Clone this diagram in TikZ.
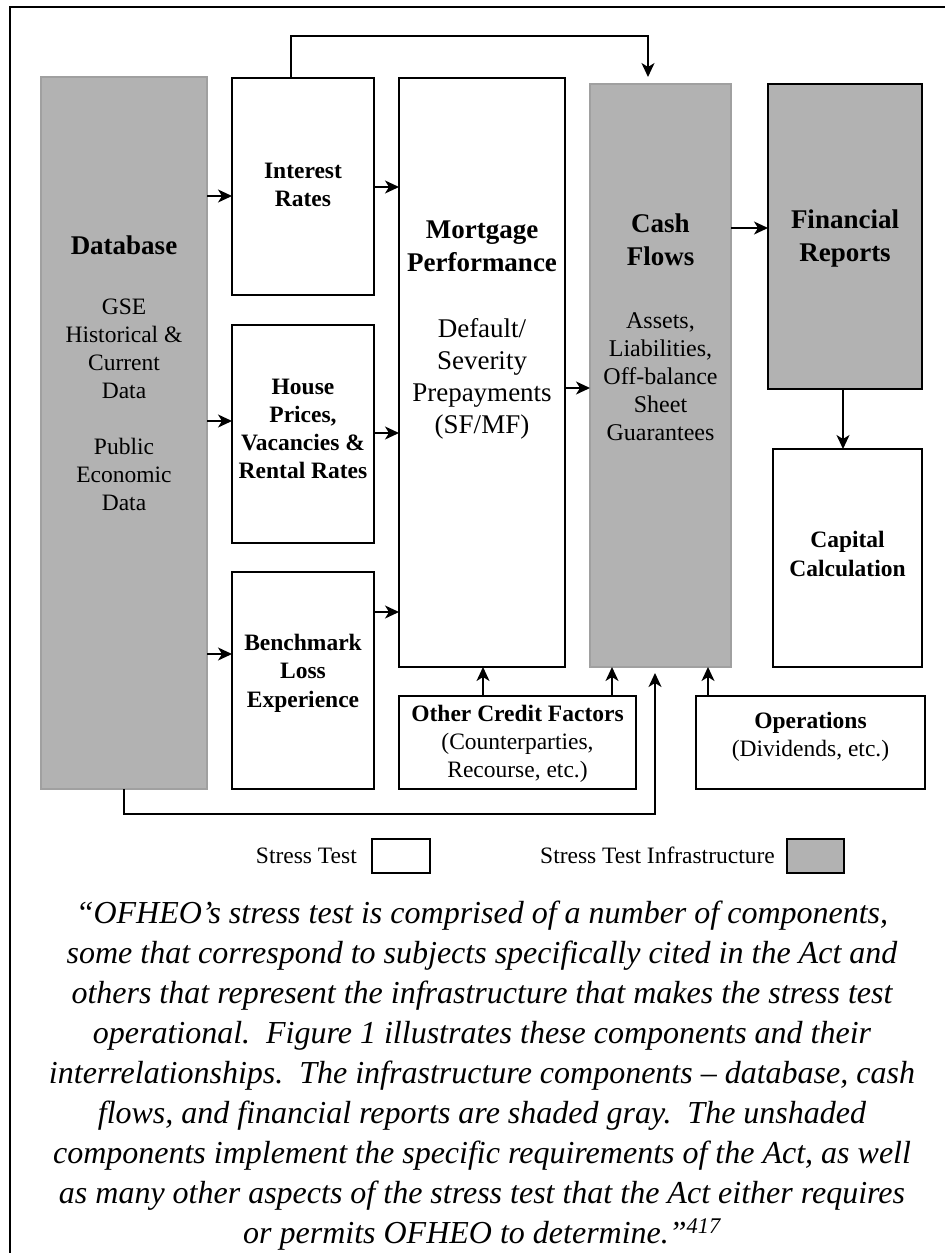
\documentclass[tikz,border=0pt]{standalone}
\usepackage{fontspec}
\setmainfont{Liberation Serif}
\usetikzlibrary{arrows.meta}
\definecolor{shade}{HTML}{B2B2B2}
\definecolor{shadeline}{HTML}{A0A0A0}
\begin{document}
\begin{tikzpicture}[x=1pt,y=-1pt,
  box/.style={draw=black, line width=1.6pt, fill=white, inner sep=0pt, outer sep=0pt},
  sbox/.style={box, fill=shade},
  arr/.style={line width=1.6pt, -{Stealth[length=14pt,width=13pt,inset=4pt]}},
  txt/.style={inner sep=0pt, align=center, anchor=base},
  bsmall/.style={txt, font=\fontsize{23.5}{28}\selectfont\bfseries},
  bbig/.style={txt, font=\fontsize{27}{33}\selectfont\bfseries},
  rsmall/.style={txt, font=\fontsize{23.5}{28}\selectfont},
  rbig/.style={txt, font=\fontsize{27}{32}\selectfont},
  captext/.style={txt, font=\fontsize{32}{40}\selectfont\itshape}
]
\useasboundingbox (0,0) rectangle (945,1253);
\fill[white] (0,0) rectangle (945,1253);
% frame
\draw[line width=2pt] (945,7) -- (10,7) -- (10,1253);

% boxes
\node[sbox, draw=shadeline, minimum width=166, minimum height=712] (db) at (124,433) {};
\node[box, minimum width=142, minimum height=217] (ir) at (303,186.5) {};
\node[box, minimum width=142, minimum height=218] (hp) at (303,434) {};
\node[box, minimum width=142, minimum height=217] (bm) at (303,680.5) {};
\node[box, minimum width=166, minimum height=589] (mp) at (482,372.5) {};
\node[box, minimum width=237, minimum height=93] (oc) at (517.5,742.5) {};
\node[sbox, draw=shadeline, minimum width=141, minimum height=583] (cf) at (660.5,375.5) {};
\node[sbox, minimum width=154, minimum height=305] (fr) at (845,236.5) {};
\node[box, minimum width=149, minimum height=218] (cc) at (847.5,558) {};
\node[box, minimum width=229, minimum height=93] (op) at (810.5,742.5) {};

% texts (anchor base = baseline of the last line)
\node[bbig] (dbt) at (124,254) {Database};
\node[rsmall] (dbs) at (124,510) {GSE\\Historical \&\\Current\\Data\\[28pt]Public\\Economic\\Data};
\node[bsmall] (irt) at (303,206) {Interest\\Rates};
\node[bsmall] (hpt) at (303,478) {House\\Prices,\\Vacancies \&\\Rental Rates};
\node[txt, font=\fontsize{23.5}{28.5}\selectfont\bfseries] (bmt) at (303,707) {Benchmark\\Loss\\Experience};
\node[bbig] (mpt) at (482,271) {Mortgage\\Performance};
\node[rbig] (mps) at (482,433) {Default/\\Severity\\Prepayments\\(SF/MF)};
\node[bbig] (cft) at (660.5,265) {Cash\\Flows};
\node[txt, font=\fontsize{24}{28}\selectfont] (cfs) at (660.5,440) {Assets,\\Liabilities,\\Off-balance\\Sheet\\Guarantees};
\node[bbig] (frt) at (845,261) {Financial\\Reports};
\node[txt, font=\fontsize{23.5}{29}\selectfont\bfseries] (cct) at (847.5,576) {Capital\\Calculation};
\node[rsmall] (oct) at (517.5,777) {\textbf{Other Credit Factors}\\(Counterparties,\\Recourse, etc.)};
\node[rsmall] (opt) at (810.5,756) {\textbf{Operations}\\(Dividends, etc.)};

% connectors
\coordinate (t1) at (291,36);
\coordinate (t2) at (648,36);
\coordinate (t3) at (648,77);
\draw[arr] (ir.north -| t1) -- (t1) -- (t2) -- (t3);

\draw[arr] (db.east |- 0,196) -- (ir.west |- 0,196);
\draw[arr] (db.east |- 0,421) -- (hp.west |- 0,421);
\draw[arr] (db.east |- 0,654) -- (bm.west |- 0,654);
\draw[arr] (ir.east |- 0,187) -- (mp.west |- 0,187);
\draw[arr] (hp.east |- 0,433) -- (mp.west |- 0,433);
\draw[arr] (bm.east |- 0,612) -- (mp.west |- 0,612);
\draw[arr] (mp.east |- 0,388) -- (cf.west |- 0,388);
\draw[arr] (cf.east |- 0,228) -- (fr.west |- 0,228);
\draw[arr] (fr.south -| 843,0) -- (cc.north -| 843,0);
\draw[arr] (oc.north -| 483,0) -- (mp.south -| 483,0);
\draw[arr] (oc.north -| 612,0) -- (cf.south -| 612,0);
\draw[arr] (op.north -| 708,0) -- (cf.south -| 708,0);
\coordinate (b1) at (124,814);
\coordinate (b2) at (655,814);
\coordinate (b3) at (655,673);
\draw[arr] (db.south) -- (b1) -- (b2) -- (b3);

% legend
\node[txt, anchor=base east, font=\fontsize{23.5}{28}\selectfont] (lg1) at (357,863) {Stress Test};
\node[box, minimum width=58, minimum height=34] (lgw) at (401,856) {};
\node[txt, anchor=base east, font=\fontsize{23.5}{28}\selectfont] (lg2) at (775,863) {Stress Test Infrastructure};
\node[sbox, minimum width=57, minimum height=34] (lgg) at (815.5,856) {};

% caption
\node[captext] (capt) at (482,1243) {“OFHEO’s stress test is comprised of a number of components,\\
some that correspond to subjects specifically cited in the Act and\\
others that represent the infrastructure that makes the stress test\\
operational.\ \ Figure 1 illustrates these components and their\\
interrelationships.\ \ The infrastructure components – database, cash\\
flows, and financial reports are shaded gray.\ \ The unshaded\\
components implement the specific requirements of the Act, as well\\
as many other aspects of the stress test that the Act either requires\\
or permits OFHEO to determine.”\textsuperscript{417}};
\end{tikzpicture}
\end{document}
